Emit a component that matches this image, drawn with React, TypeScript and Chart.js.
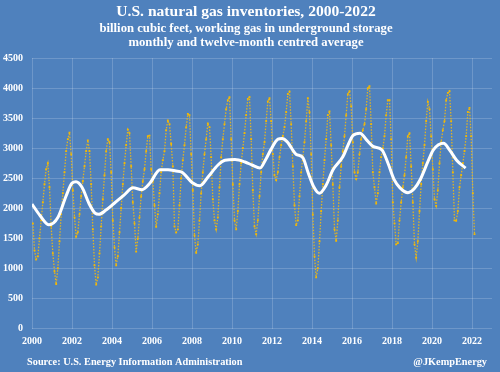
import React, { useEffect, useRef } from "react";
import { Chart, registerables } from "chart.js";

Chart.register(...registerables);

const titleText = "U.S. natural gas inventories, 2000-2022";
const subtitleLines = [
  "billion cubic feet, working gas in underground storage",
  "monthly and twelve-month centred average",
];
const sourceText = "Source: U.S. Energy Information Administration";
const handleText = "@JKempEnergy";

const firstYear = 2000;
// Monthly working gas (bcf), Jan 2000 .. Feb 2022, one row per year
const monthlyWorkingGas: number[] = [
  1750, 1300, 1150, 1200, 1500, 1800, 2100, 2400, 2650, 2750, 2350, 1700, // 2000
  1250, 950, 740, 1000, 1450, 1900, 2250, 2600, 2950, 3150, 3260, 2900, // 2001
  2300, 1850, 1530, 1600, 1900, 2200, 2450, 2700, 2950, 3130, 2950, 2400, // 2002
  1650, 1050, 730, 850, 1250, 1700, 2150, 2550, 2950, 3150, 3100, 2600, // 2003
  1800, 1350, 1050, 1200, 1600, 2000, 2400, 2750, 3050, 3310, 3250, 2700, // 2004
  2100, 1750, 1280, 1500, 1850, 2200, 2450, 2650, 2950, 3200, 3210, 2650, // 2005
  2450, 2050, 1690, 1900, 2250, 2600, 2800, 2950, 3300, 3460, 3400, 3070, // 2006
  2700, 1700, 1600, 1650, 2050, 2500, 2800, 3050, 3350, 3570, 3550, 2900, // 2007
  2300, 1550, 1260, 1400, 1800, 2250, 2600, 2900, 3150, 3410, 3350, 2850, // 2008
  2150, 1800, 1650, 1850, 2350, 2850, 3150, 3400, 3650, 3800, 3850, 3150, // 2009
  2400, 1800, 1650, 1950, 2400, 2750, 3000, 3250, 3550, 3820, 3850, 3150, // 2010
  2300, 1700, 1570, 1800, 2200, 2600, 2900, 3100, 3450, 3780, 3830, 3450, // 2011
  2900, 2550, 2470, 2600, 2850, 3050, 3200, 3350, 3600, 3900, 3940, 3400, // 2012
  2700, 2050, 1720, 1800, 2200, 2600, 2850, 3100, 3450, 3830, 3600, 2900, // 2013
  1900, 1200, 850, 1000, 1450, 1950, 2400, 2800, 3150, 3550, 3610, 3050, // 2014
  2400, 1650, 1460, 1800, 2350, 2700, 2950, 3200, 3550, 3900, 3950, 3700, // 2015
  3100, 2600, 2490, 2600, 2900, 3150, 3300, 3400, 3650, 4000, 4030, 3400, // 2016
  2600, 2350, 2080, 2250, 2600, 2850, 3000, 3200, 3550, 3800, 3800, 3150, // 2017
  2100, 1750, 1400, 1420, 1800, 2100, 2350, 2550, 2850, 3200, 3250, 2700, // 2018
  2100, 1400, 1180, 1450, 1950, 2400, 2750, 3050, 3450, 3770, 3650, 3200, // 2019
  2650, 2150, 2040, 2300, 2750, 3100, 3300, 3450, 3800, 3920, 3950, 3450, // 2020
  2600, 1800, 1790, 1950, 2350, 2550, 2750, 2950, 3200, 3600, 3670, 3200, // 2021
  2250, 1570, // 2022
];

// Twelve-month centred average, read at these dates
const avgYears: number[] = [
  2000.0, 2000.4, 2000.85, 2001.3, 2001.7, 2002.0, 2002.2, 2002.5, 2002.85,
  2003.15, 2003.35, 2003.7, 2004.1, 2004.6, 2005.05, 2005.5, 2005.9, 2006.4,
  2006.8, 2007.2, 2007.5, 2008.0, 2008.4, 2008.8, 2009.3, 2009.65, 2010.15,
  2010.65, 2011.0, 2011.4, 2011.7, 2011.95, 2012.3, 2012.5, 2012.75, 2013.2,
  2013.55, 2013.8, 2014.1, 2014.37, 2014.7, 2015.05, 2015.55, 2015.8, 2016.05,
  2016.4, 2016.75, 2017.05, 2017.5, 2017.8, 2018.1, 2018.4, 2018.8, 2019.1,
  2019.4, 2019.8, 2020.07, 2020.57, 2020.9, 2021.23, 2021.68,
];
const avgValues: number[] = [
  2070, 1880, 1725, 1850, 2200, 2420, 2440, 2350, 2080,
  1920, 1900, 1970, 2080, 2220, 2340, 2310, 2420, 2640,
  2640, 2620, 2600, 2430, 2375, 2520, 2720, 2800, 2810,
  2770, 2720, 2670, 2820, 2980, 3150, 3160, 3110, 2900,
  2840, 2600, 2350, 2250, 2380, 2640, 2860, 3050, 3210,
  3250, 3130, 3030, 2970, 2750, 2480, 2340, 2260, 2320,
  2470, 2780, 2970, 3080, 2960, 2800, 2670,
];

const xTickYears: number[] = [2000, 2002, 2004, 2006, 2008, 2010, 2012, 2014, 2016, 2018, 2020, 2022];
const yTickValues: number[] = [0, 500, 1000, 1500, 2000, 2500, 3000, 3500, 4000, 4500];

const BG = "#4f81bd";
const GOLD = "#F5B800";
const FONT = "'Liberation Serif', 'Times New Roman', serif";

export default function App() {
  const canvasRef = useRef<HTMLCanvasElement | null>(null);

  useEffect(() => {
    document.body.style.margin = "0";
    const canvas = canvasRef.current;
    if (!canvas) return;

    const monthlyPoints = monthlyWorkingGas.map((v, i) => ({
      x: firstYear + Math.floor(i / 12) + ((i % 12) + 0.5) / 12,
      y: v,
    }));
    const avgPoints = avgYears.map((x, i) => ({ x, y: avgValues[i] }));

    const footerPlugin = {
      id: "footerText",
      afterDraw(chart: any) {
        const ctx = chart.ctx;
        ctx.save();
        ctx.fillStyle = "#ffffff";
        ctx.font = `bold 10.3px ${FONT}`;
        ctx.textBaseline = "middle";
        ctx.textAlign = "left";
        ctx.fillText(sourceText, 27, 362);
        ctx.textAlign = "right";
        ctx.fillText(handleText, 487, 362);
        ctx.restore();
      },
    };

    const chart = new Chart(canvas, {
      type: "line",
      data: {
        datasets: [
          {
            label: "12-month centred average",
            data: avgPoints,
            borderColor: "#ffffff",
            borderWidth: 3,
            pointRadius: 0,
            tension: 0.4,
            cubicInterpolationMode: "monotone",
            order: 0,
          } as any,
          {
            label: "Monthly",
            data: monthlyPoints,
            borderColor: "rgba(240,185,20,0.9)",
            borderWidth: 1.3,
            borderDash: [1.5, 1.5],
            pointStyle: "rect",
            pointRadius: 1.3,
            pointBackgroundColor: GOLD,
            pointBorderWidth: 0,
            tension: 0,
            order: 1,
          } as any,
        ],
      },
      options: {
        animation: false,
        responsive: false,
        layout: { padding: { top: 0, right: 8, bottom: 0, left: 0 } },
        plugins: {
          legend: { display: false },
          tooltip: { enabled: false },
          title: {
            display: true,
            text: titleText,
            color: "#ffffff",
            font: { family: FONT, size: 15.6, weight: "bold", lineHeight: 1.2 },
            padding: { top: 3, bottom: 0 },
          },
          subtitle: {
            display: true,
            text: subtitleLines,
            color: "#ffffff",
            font: { family: FONT, size: 12.7, weight: "bold", lineHeight: 14 / 12.7 },
            padding: { top: 0, bottom: 8.3 },
          },
        },
        scales: {
          x: {
            type: "linear",
            min: 2000,
            max: 2023,
            afterBuildTicks: (scale: any) => {
              scale.ticks = xTickYears.map((v) => ({ value: v }));
            },
            afterFit: (scale: any) => {
              scale.height = 43.5;
            },
            ticks: {
              color: "#ffffff",
              font: { family: FONT, size: 10, weight: "bold" },
              padding: 7,
              maxRotation: 0,
              callback: (v: any) => String(v),
            },
            grid: { color: "rgba(255,255,255,0.18)", drawTicks: false },
            border: { display: false },
          },
          y: {
            min: 0,
            max: 4500,
            afterBuildTicks: (scale: any) => {
              scale.ticks = yTickValues.map((v) => ({ value: v }));
            },
            afterFit: (scale: any) => {
              scale.width = 32;
            },
            ticks: {
              color: "#ffffff",
              font: { family: FONT, size: 10, weight: "bold" },
              padding: 9,
              callback: (v: any) => String(v),
            },
            grid: { color: "rgba(255,255,255,0.18)", drawTicks: false },
            border: { display: false },
          },
        },
      } as any,
      plugins: [footerPlugin],
    });

    return () => chart.destroy();
  }, []);

  return (
    <div style={{ position: "absolute", left: 0, top: 0, width: 500, height: 372, background: BG }}>
      <canvas ref={canvasRef} width={500} height={372} style={{ display: "block", width: 500, height: 372 }} />
    </div>
  );
}
